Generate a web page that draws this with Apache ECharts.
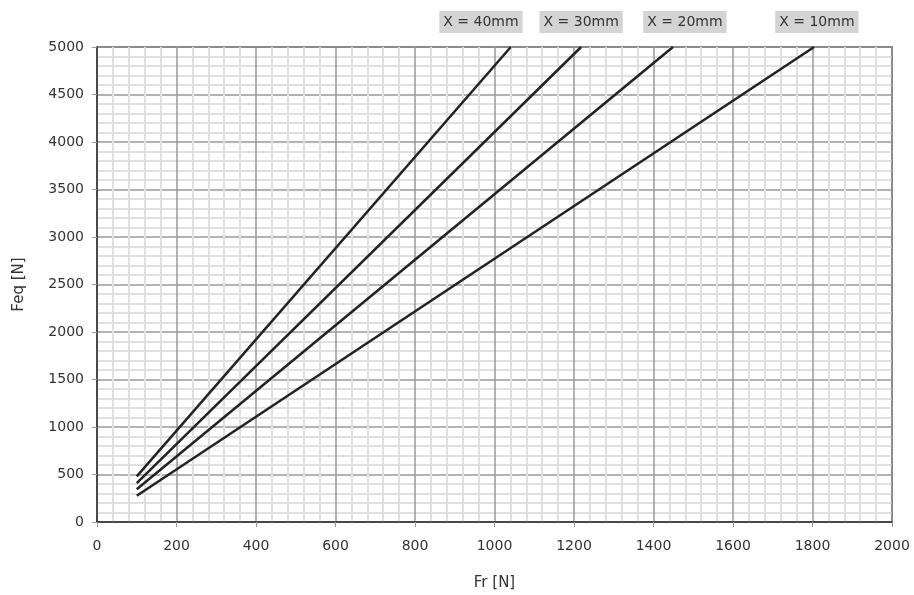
<!DOCTYPE html>
<html>
<head>
<meta charset="utf-8">
<script src="https://cdn.jsdelivr.net/npm/echarts@6/dist/echarts.min.js"></script>
<style>html,body{margin:0;padding:0;background:#fff}#c{width:914px;height:595px}</style>
</head>
<body>
<div id="c"></div>
<script>
// Data
var seriesNames = ['X = 40mm', 'X = 30mm', 'X = 20mm', 'X = 10mm'];
var fr40 = [100, 1041], feq40 = [480, 5000];
var fr30 = [100, 1218], feq30 = [410, 5000];
var fr20 = [100, 1449], feq20 = [345, 5000];
var fr10 = [100, 1804], feq10 = [277, 5000];
var labelFr = [966, 1218, 1479, 1811];
var xTicks = [0, 200, 400, 600, 800, 1000, 1200, 1400, 1600, 1800, 2000];
var yTicks = [0, 500, 1000, 1500, 2000, 2500, 3000, 3500, 4000, 4500, 5000];

var FONT = 'DejaVu Sans';
var frs = [fr40, fr30, fr20, fr10];
var feqs = [feq40, feq30, feq20, feq10];

function pairs(xs, ys) { return xs.map(function (x, i) { return [x, ys[i]]; }); }

var series = seriesNames.map(function (name, i) {
  return {
    name: name,
    type: 'line',
    data: pairs(frs[i], feqs[i]),
    symbol: 'none',
    silent: true,
    lineStyle: { color: '#222', width: 2.5 },
    markPoint: {
      symbol: 'rect', symbolSize: 0, silent: true,
      data: [{ coord: [labelFr[i], yTicks[yTicks.length - 1]] }],
      label: {
        show: true, formatter: name, offset: [0, -25],
        fontFamily: FONT, fontSize: 14, color: '#333',
        backgroundColor: '#d4d4d4', padding: [4, 4, 4, 4]
      }
    }
  };
});

var chart = echarts.init(document.getElementById('c'));
chart.setOption({
  animation: false,
  backgroundColor: '#fff',
  grid: { left: 97, right: 22, top: 47, bottom: 73, outerBoundsMode: 'none', containLabel: false, show: true, borderColor: '#333', borderWidth: 1.5, backgroundColor: 'transparent' },
  xAxis: {
    type: 'value', min: xTicks[0], max: xTicks[xTicks.length - 1], interval: 200,
    name: 'Fr [N]', nameLocation: 'middle', nameGap: 54,
    nameTextStyle: { fontFamily: FONT, fontSize: 15, color: '#333' },
    axisLine: { show: true, lineStyle: { color: '#333', width: 1.5 } },
    axisTick: { show: true, length: 5, lineStyle: { color: '#999' } },
    axisLabel: { fontFamily: FONT, fontSize: 14, color: '#333', margin: 17, formatter: function (v) { return String(v); } },
    splitLine: { show: true, lineStyle: { color: '#999', width: 1.5 } },
    minorTick: { show: false, splitNumber: 5 },
    minorSplitLine: { show: true, lineStyle: { color: '#e0e0e0', width: 2 } }
  },
  yAxis: {
    type: 'value', min: yTicks[0], max: yTicks[yTicks.length - 1], interval: 500,
    name: 'Feq [N]', nameLocation: 'middle', nameGap: 70,
    nameTextStyle: { fontFamily: FONT, fontSize: 15, color: '#333' },
    axisLine: { show: true, lineStyle: { color: '#333', width: 1.5 } },
    axisTick: { show: true, length: 5, lineStyle: { color: '#999' } },
    axisLabel: { fontFamily: FONT, fontSize: 14, color: '#333', margin: 13, formatter: function (v) { return String(v); } },
    splitLine: { show: true, lineStyle: { color: '#999', width: 1.5 } },
    minorTick: { show: false, splitNumber: 5 },
    minorSplitLine: { show: true, lineStyle: { color: '#e0e0e0', width: 2 } }
  },
  series: series
});
</script>
</body>
</html>
